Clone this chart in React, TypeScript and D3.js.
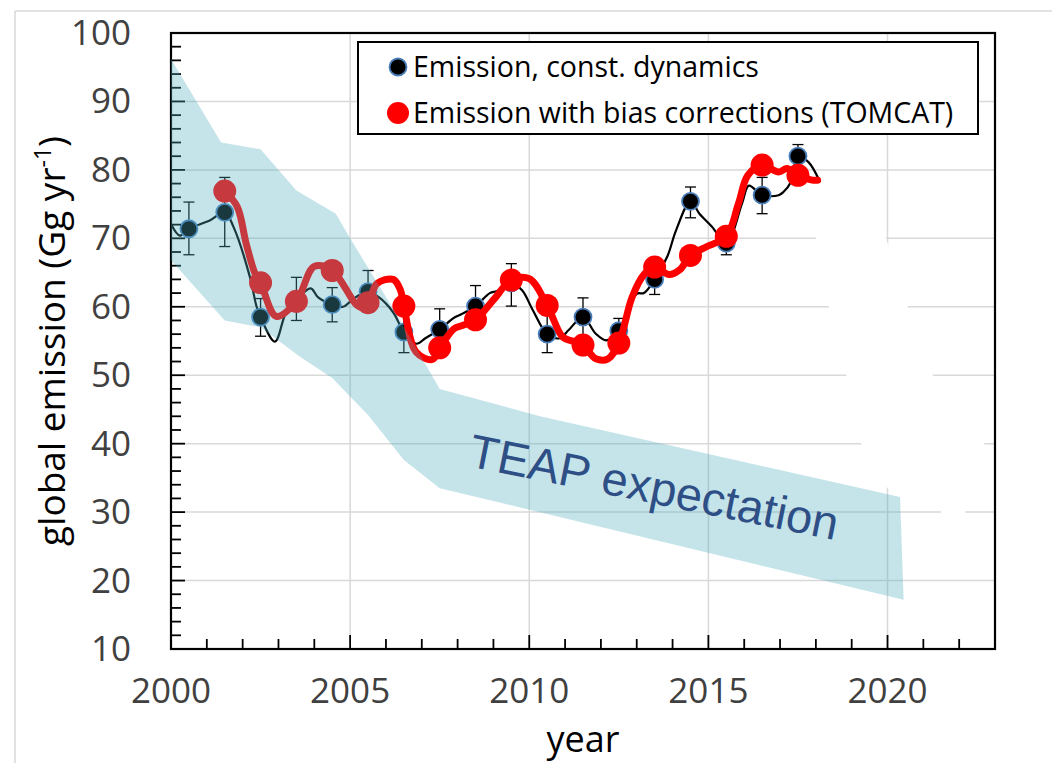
import React from 'react';
import * as d3 from 'd3';

const W = 1052;
const H = 763;
const margin = { left: 171, right: 57, top: 33, bottom: 114 };

const xDomain = [2000, 2023];
const yDomain = [10, 100];
const xTickLabels = [2000, 2005, 2010, 2015, 2020];
const yTickLabels = [10, 20, 30, 40, 50, 60, 70, 80, 90, 100];

// annual estimates, constant dynamics (with error bars)
const constYears = [2000.5, 2001.5, 2002.5, 2003.5, 2004.5, 2005.5, 2006.5, 2007.5, 2008.5, 2009.5, 2010.5, 2011.5, 2012.5, 2013.5, 2014.5, 2015.5, 2016.5, 2017.5];
const constValues = [71.4, 73.8, 58.5, 61.0, 60.3, 62.2, 56.3, 56.7, 60.1, 63.5, 56.0, 58.5, 56.5, 64.0, 75.4, 69.3, 76.3, 82.0];
const constLow = [67.6, 68.8, 55.7, 58.0, 57.8, 59.2, 53.3, 53.6, 57.1, 60.1, 53.3, 55.6, 54.5, 61.8, 73.0, 67.6, 73.6, 80.3];
const constHigh = [75.3, 78.9, 61.2, 64.3, 62.8, 65.3, 59.3, 59.7, 63.1, 66.3, 58.8, 61.3, 58.3, 66.2, 77.5, 71.0, 78.9, 83.7];

// annual estimates, bias corrections (TOMCAT)
const biasYears = [2001.5, 2002.5, 2003.5, 2004.5, 2005.5, 2006.5, 2007.5, 2008.5, 2009.5, 2010.5, 2011.5, 2012.5, 2013.5, 2014.5, 2015.5, 2016.5, 2017.5];
const biasValues = [76.9, 63.5, 60.8, 65.3, 60.6, 60.1, 54.0, 58.1, 63.9, 60.2, 54.4, 54.7, 65.8, 67.5, 70.3, 80.7, 79.2];

// sub-annual curves
const constLineYears = [2000.0, 2000.25, 2000.5, 2001.08, 2001.5, 2001.75, 2002.2, 2002.39, 2002.5, 2002.9, 2003.2, 2003.5, 2003.9, 2004.1, 2004.5, 2004.8, 2005.1, 2005.5, 2005.8, 2006.2, 2006.5, 2006.85, 2007.1, 2007.5, 2007.9, 2008.1, 2008.5, 2008.9, 2009.1, 2009.5, 2009.8, 2010.1, 2010.5, 2010.85, 2011.1, 2011.5, 2011.85, 2012.15, 2012.5, 2013.0, 2013.2, 2013.5, 2013.85, 2014.1, 2014.5, 2014.75, 2015.1, 2015.5, 2015.94, 2016.13, 2016.5, 2016.96, 2017.1, 2017.3, 2017.5, 2017.8, 2018.1];
const constLineValues = [72.1, 70.4, 71.4, 72.6, 73.8, 71.6, 64.4, 60.0, 58.5, 54.9, 59.0, 61.0, 62.7, 61.4, 60.3, 60.0, 61.2, 62.2, 61.4, 59.2, 56.3, 54.6, 55.4, 56.7, 58.4, 58.9, 60.1, 62.0, 62.3, 63.5, 62.4, 59.5, 56.0, 55.4, 56.6, 58.5, 56.1, 55.1, 56.5, 61.9, 62.0, 64.0, 67.3, 71.2, 75.4, 73.6, 71.7, 69.3, 75.1, 77.7, 76.3, 76.3, 76.8, 78.2, 82.0, 81.1, 78.4];

const biasLineYears = [2001.5, 2001.85, 2002.1, 2002.35, 2002.5, 2002.94, 2003.5, 2004.0, 2004.5, 2005.26, 2005.5, 2005.75, 2006.2, 2006.4, 2006.5, 2006.84, 2007.3, 2007.5, 2007.9, 2008.15, 2008.5, 2009.0, 2009.5, 2010.0, 2010.5, 2010.93, 2011.2, 2011.5, 2011.86, 2012.2, 2012.5, 2012.87, 2013.2, 2013.5, 2013.9, 2014.2, 2014.5, 2014.92, 2015.5, 2015.84, 2016.1, 2016.5, 2016.96, 2017.2, 2017.5, 2017.9, 2018.05];
const biasLineValues = [76.9, 74.6, 69.2, 64.8, 63.5, 58.6, 60.8, 65.9, 65.3, 60.0, 60.6, 63.4, 64.0, 62.5, 60.1, 53.4, 52.3, 54.0, 56.8, 57.3, 58.1, 61.0, 63.9, 64.1, 60.2, 55.6, 55.0, 54.4, 52.4, 52.4, 54.7, 61.4, 64.7, 65.8, 64.7, 65.4, 67.5, 68.7, 70.3, 75.1, 79.2, 80.7, 79.7, 80.2, 79.2, 78.5, 78.5];

// TEAP expectation band
const teapUpperYears = [2000, 2001.4, 2002.5, 2003.5, 2004.6, 2005.0, 2006.4, 2007.5, 2010.3, 2020.35];
const teapUpperValues = [96.2, 84.0, 83.0, 77.0, 73.6, 70.0, 58.0, 48.0, 44.0, 32.2];
const teapLowerYears = [2020.45, 2007.5, 2006.5, 2005.5, 2004.5, 2003.6, 2002.5, 2001.5, 2000];
const teapLowerValues = [17.2, 33.5, 37.6, 44.2, 49.6, 52.7, 57.0, 58.0, 66.8];

// erased patch in the grid (right side)
const eraseYears = [2018.0, 2019.9, 2020.5, 2021.1, 2022.7, 2022.7, 2021.2, 2020.1, 2019.8, 2019.3, 2018.9, 2018.4, 2018.0];
const eraseValues = [71, 71, 61, 51, 41.5, 38.5, 33.2, 32.8, 35, 39, 49, 59, 69];
const erase2Years = [2021.5, 2022.17, 2022.17, 2021.5];
const erase2Values = [30.6, 30.6, 29.4, 29.4];

const FONT = "'Open Sans', sans-serif";

const App = () => {
  const x = d3.scaleLinear().domain(xDomain).range([margin.left, W - margin.right]);
  const y = d3.scaleLinear().domain(yDomain).range([H - margin.bottom, margin.top]);
  const x0 = x.range()[0];
  const x1 = x.range()[1];
  const y0 = y.range()[0];
  const y1 = y.range()[1];

  const smooth = d3.line<[number, number]>()
    .x(d => x(d[0]))
    .y(d => y(d[1]))
    .curve(d3.curveCatmullRom.alpha(0.5));
  const poly = d3.line<[number, number]>()
    .x(d => x(d[0]))
    .y(d => y(d[1]));

  const constLine = smooth(constLineYears.map((t, i) => [t, constLineValues[i]]));
  const biasLine = smooth(biasLineYears.map((t, i) => [t, biasLineValues[i]]));
  const band = poly([
    ...teapUpperYears.map((t, i) => [t, teapUpperValues[i]] as [number, number]),
    ...teapLowerYears.map((t, i) => [t, teapLowerValues[i]] as [number, number]),
  ]) + 'Z';
  const erase1 = poly(eraseYears.map((t, i) => [t, eraseValues[i]])) + 'Z';
  const erase2 = poly(erase2Years.map((t, i) => [t, erase2Values[i]])) + 'Z';

  const yMinor = d3.range(12, 100, 2);
  const xMinor = d3.range(2001, 2023, 1);

  return (
    <svg width={W} height={H} style={{ position: 'absolute', left: 0, top: 0, background: '#fff' }}>
      <rect x={0} y={0} width={W} height={H} fill="#fff" />
      <line x1={15} x2={15} y1={11} y2={H} stroke="#d9d9d9" strokeWidth={1.5} />
      <line x1={15} x2={W} y1={11} y2={11} stroke="#d9d9d9" strokeWidth={1.5} />

      {/* grid */}
      {yTickLabels.slice(1, -1).map(v => (
        <line key={'gy' + v} x1={x0} x2={x1} y1={y(v)} y2={y(v)} stroke="#d9d9d9" strokeWidth={1.5} />
      ))}
      {xTickLabels.slice(1).map(t => (
        <line key={'gx' + t} x1={x(t)} x2={x(t)} y1={y0} y2={y1} stroke="#d9d9d9" strokeWidth={1.5} />
      ))}
      <path d={erase1} fill="#fff" />
      <path d={erase2} fill="#fff" />

      {/* constant dynamics */}
      <path d={constLine || ''} fill="none" stroke="#000" strokeWidth={2.2} />
      {constYears.map((t, i) => (
        <g key={'eb' + i} stroke="#000" strokeWidth={1.3}>
          <line x1={x(t)} x2={x(t)} y1={y(constLow[i])} y2={y(constHigh[i])} />
          <line x1={x(t) - 5.5} x2={x(t) + 5.5} y1={y(constLow[i])} y2={y(constLow[i])} />
          <line x1={x(t) - 5.5} x2={x(t) + 5.5} y1={y(constHigh[i])} y2={y(constHigh[i])} />
        </g>
      ))}
      {constYears.map((t, i) => (
        <circle key={'cm' + i} cx={x(t)} cy={y(constValues[i])} r={8.5} fill="#000" stroke="#4a7ebb" strokeWidth={1.8} />
      ))}

      {/* bias corrected */}
      <path d={biasLine || ''} fill="none" stroke="#ff0000" strokeWidth={7} strokeLinejoin="round" strokeLinecap="round" />
      {biasYears.map((t, i) => (
        <circle key={'bm' + i} cx={x(t)} cy={y(biasValues[i])} r={11.5} fill="#ff0000" />
      ))}

      {/* frame and ticks */}
      <rect x={x0} y={y1} width={x1 - x0} height={y0 - y1} fill="none" stroke="#000" strokeWidth={2.2} />
      {yMinor.map(v => (
        <line key={'ty' + v} x1={x0} x2={x0 + (v % 10 === 0 ? 14 : 10)} y1={y(v)} y2={y(v)} stroke="#000" strokeWidth={1.8} />
      ))}
      {xMinor.map(t => (
        <line key={'tx' + t} x1={x(t)} x2={x(t)} y1={y0} y2={y0 - (t % 5 === 0 ? 14 : 10)} stroke="#000" strokeWidth={1.8} />
      ))}

      {/* TEAP band over everything in the plot */}
      <path d={band} fill="rgb(79,173,191)" fillOpacity={0.33} />
      <text x={467} y={466} transform="rotate(11.4, 467, 466)" fontFamily="'Liberation Sans', Arial, sans-serif" fontSize={47} fill="#2e4f86">
        TEAP expectation
      </text>

      {/* tick labels */}
      {yTickLabels.map(v => (
        <text key={'ly' + v} x={131} y={y(v) + 12} textAnchor="end" fontFamily={FONT} fontSize={35} fill="#404040">{v}</text>
      ))}
      {xTickLabels.map(t => (
        <text key={'lx' + t} x={x(t)} y={703} textAnchor="middle" fontFamily={FONT} fontSize={35} fill="#404040">{t}</text>
      ))}
      <text x={(x0 + x1) / 2} y={752} textAnchor="middle" fontFamily={FONT} fontSize={36} fill="#000">year</text>
      <text transform={`translate(65, ${(y0 + y1) / 2}) rotate(-90)`} textAnchor="middle" fontFamily={FONT} fontSize={37} fill="#000">
        global emission (Gg yr<tspan dy={-14} fontSize={23}>-1</tspan><tspan dy={14}>)</tspan>
      </text>

      {/* legend */}
      <rect x={358} y={42} width={620} height={92} fill="#fff" stroke="#000" strokeWidth={2} />
      <circle cx={398} cy={67} r={8.5} fill="#000" stroke="#4a7ebb" strokeWidth={1.8} />
      <text x={413} y={77} fontFamily={FONT} fontSize={28.5} fill="#000">Emission, const. dynamics</text>
      <circle cx={398} cy={113} r={11} fill="#ff0000" />
      <text x={413} y={123} fontFamily={FONT} fontSize={28.5} fill="#000">Emission with bias corrections (TOMCAT)</text>
    </svg>
  );
};

export default App;
